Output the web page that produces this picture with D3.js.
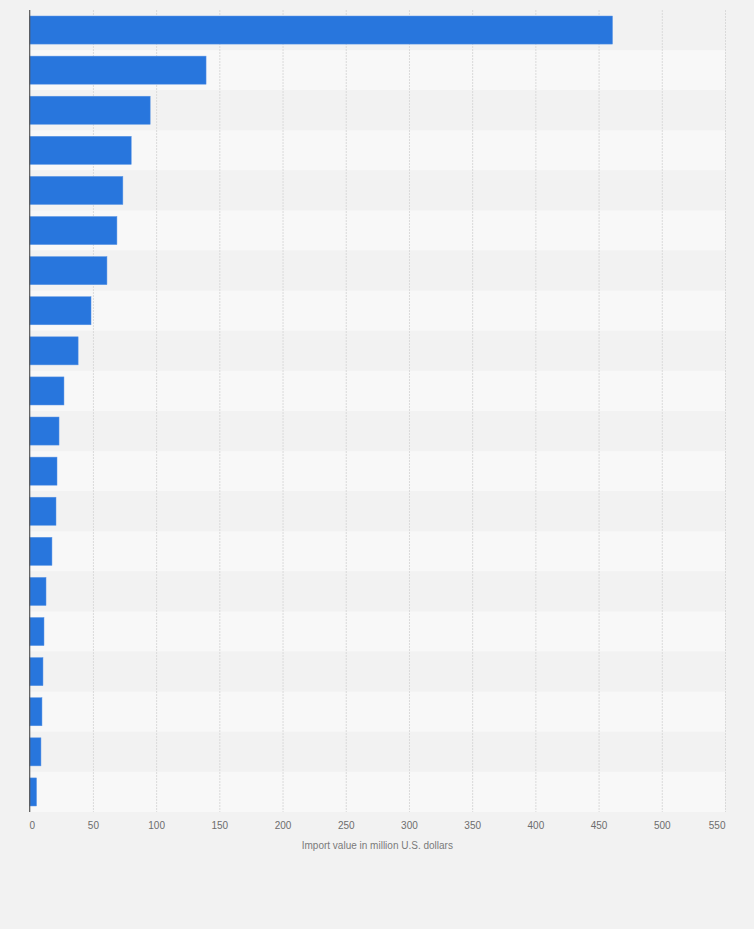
<!DOCTYPE html>
<html>
<head>
<meta charset="utf-8">
<script src="https://cdn.jsdelivr.net/npm/d3@7"></script>
<style>
  html, body { margin: 0; padding: 0; background: #f2f2f2; }
  svg { display: block; font-family: "Liberation Sans", Arial, sans-serif; }
</style>
</head>
<body>
<div id="chart"></div>
<script>
// ranks only, the reference shows no category names
const ranks = d3.range(1, 21).map(String)
const importValues = [461, 139.5, 95.3, 80.3, 73.7, 69, 61.1, 48.5, 38.3, 27.1,
  23.2, 21.6, 20.8, 17.6, 12.9, 11.3, 10.5, 9.7, 8.9, 5.4]
const xTicks = [0, 50, 100, 150, 200, 250, 300, 350, 400, 450, 500, 550]
const xTitle = 'Import value in million U.S. dollars'

let width = 754
let height = 929
let margin = {top: 10, right: 29, bottom: 117, left: 29.7}

const data = ranks.map((r, i) => ({rank: r, value: importValues[i]}))

let svg = d3.select('#chart').append('svg')
  .attr('width', width)
  .attr('height', height)

svg.append('rect')
  .attr('width', width).attr('height', height)
  .attr('fill', '#f2f2f2')

x = d3.scaleLinear()
  .domain([0, 550])
  .range([margin.left, width - margin.right])

y = d3.scaleBand()
  .domain(ranks)
  .range([margin.top, height - margin.bottom])
  .paddingInner(0.3)
  .paddingOuter(0.15)

// striped rows
let step = y.step()
svg.append('g')
  .selectAll('rect')
  .data(ranks)
  .join('rect')
  .attr('x', x(0))
  .attr('y', (d, i) => margin.top + i * step)
  .attr('width', x(550) - x(0))
  .attr('height', step)
  .attr('fill', (d, i) => i % 2 ? '#f8f8f8' : '#f2f2f2')

// vertical grid
svg.append('g')
  .selectAll('line')
  .data(xTicks.filter(t => t > 0))
  .join('line')
  .attr('x1', d => x(d) + 0.5).attr('x2', d => x(d) + 0.5)
  .attr('y1', margin.top).attr('y2', height - margin.bottom)
  .attr('stroke', '#dadada')
  .attr('stroke-dasharray', '2,1')

// bars
svg.append('g')
  .selectAll('rect')
  .data(data)
  .join('rect')
  .attr('x', x(0))
  .attr('y', d => y(d.rank))
  .attr('width', d => x(d.value) - x(0))
  .attr('height', y.bandwidth())
  .attr('fill', '#2876dd')
  .attr('stroke', '#5b95e6')
  .attr('stroke-width', 0.5)

// left axis line
svg.append('line')
  .attr('x1', x(0)).attr('x2', x(0))
  .attr('y1', margin.top).attr('y2', height - margin.bottom)
  .attr('stroke', '#555')
  .attr('stroke-width', 1.2)

// x axis
const xAxis = d3.axisBottom(x)
  .tickValues(xTicks)
  .tickSize(0)
  .tickPadding(10)

let gx = svg.append('g')
  .attr('transform', `translate(0,${height - margin.bottom})`)
  .call(xAxis)
gx.select('.domain').remove()
gx.selectAll('text')
  .attr('fill', '#6d6d6d')
  .style('font-size', '10px')
  .style('font-family', '"Liberation Sans", Arial, sans-serif')
  .attr('text-anchor', (d, i) => i === 0 ? 'start' : (i === xTicks.length - 1 ? 'end' : 'middle'))
  .attr('dx', (d, i) => i === 0 ? -0.7 : 0)

svg.append('text')
  .attr('x', (x(0) + x(550)) / 2)
  .attr('y', 849)
  .attr('text-anchor', 'middle')
  .attr('fill', '#7a7a7a')
  .style('font-size', '10px')
  .text(xTitle)
</script>
</body>
</html>
